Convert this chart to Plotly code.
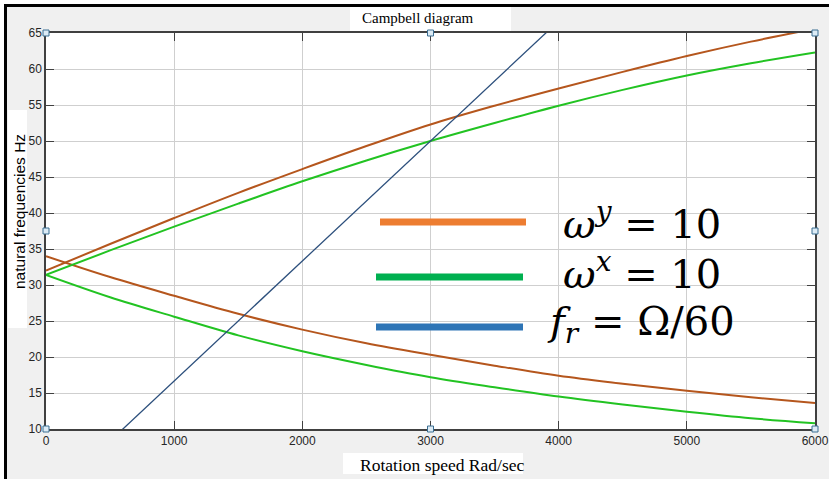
import plotly.graph_objects as go

# ---------------- data ----------------
speed = [0, 500, 1000, 1500, 2000, 2500, 3000, 3500, 4000, 4500, 5000, 5500, 6000]
orange_up = [32.0, 35.7, 39.3, 42.8, 46.1, 49.3, 52.3, 54.9, 57.3, 59.6, 61.8, 63.8, 65.6]
green_up = [31.4, 34.8, 38.1, 41.3, 44.4, 47.3, 50.0, 52.5, 54.9, 57.1, 59.1, 60.8, 62.3]
orange_low = [34.0, 31.1, 28.5, 26.0, 23.8, 21.9, 20.3, 18.8, 17.4, 16.3, 15.3, 14.4, 13.6]
green_low = [31.4, 28.3, 25.6, 23.0, 20.8, 18.9, 17.2, 15.8, 14.5, 13.4, 12.4, 11.5, 10.8]
rot_speed = [0, 6000]
rot_freq = [0, 100]  # f = speed / 60

x_ticks = [0, 1000, 2000, 3000, 4000, 5000, 6000]
y_ticks = [10, 15, 20, 25, 30, 35, 40, 45, 50, 55, 60, 65]

W, H = 829, 479
L, R, T, B = 46, 815, 33, 429


def px(xp):
    return (xp - L) / (R - L)


def py(yp):
    return (B - yp) / (B - T)


ORANGE = "#b5561d"
GREEN = "#22c322"
BLUE = "#2c4f7c"

fig = go.Figure()
for ys, col in [(orange_up, ORANGE), (orange_low, ORANGE), (green_up, GREEN), (green_low, GREEN)]:
    fig.add_trace(go.Scatter(x=speed, y=ys, mode="lines",
                             line=dict(color=col, width=2, shape="spline", smoothing=1.0),
                             showlegend=False))
fig.add_trace(go.Scatter(x=rot_speed, y=rot_freq, mode="lines", line=dict(color=BLUE, width=1.3), showlegend=False))

shapes = []
# outer white margin and black frame lines
shapes.append(dict(type="rect", xref="paper", yref="paper", x0=px(0), x1=px(W), y0=py(0), y1=py(4),
                   fillcolor="white", line=dict(width=0), layer="below"))
shapes.append(dict(type="rect", xref="paper", yref="paper", x0=px(0), x1=px(4), y0=py(0), y1=py(H),
                   fillcolor="white", line=dict(width=0), layer="below"))
shapes.append(dict(type="line", xref="paper", yref="paper", x0=px(4), x1=px(W), y0=py(5.5), y1=py(5.5),
                   line=dict(color="black", width=3)))
shapes.append(dict(type="line", xref="paper", yref="paper", x0=px(5.5), x1=px(5.5), y0=py(4), y1=py(H),
                   line=dict(color="black", width=3)))
# white boxes behind titles
shapes.append(dict(type="rect", xref="paper", yref="paper", x0=px(350), x1=px(511), y0=py(7), y1=py(32),
                   fillcolor="white", line=dict(width=0), layer="below"))
shapes.append(dict(type="rect", xref="paper", yref="paper", x0=px(343), x1=px(523), y0=py(453), y1=py(474),
                   fillcolor="white", line=dict(width=0), layer="below"))
shapes.append(dict(type="rect", xref="paper", yref="paper", x0=px(8), x1=px(27), y0=py(110), y1=py(328),
                   fillcolor="white", line=dict(width=0), layer="below"))
# legend line swatches
for (x0, x1, yy, col) in [(380, 526, 222, "#ed7d31"), (376, 523, 277, "#00b050"), (376, 523, 327, "#2e75b6")]:
    shapes.append(dict(type="line", xref="paper", yref="paper", x0=px(x0), x1=px(x1), y0=py(yy), y1=py(yy),
                       line=dict(color=col, width=7)))
# selection handles
for hx in [0, 0.5, 1]:
    for hy in [0, 0.5, 1]:
        if hx == 0.5 and hy == 0.5:
            continue
        shapes.append(dict(type="rect", xref="paper", yref="paper", xsizemode="pixel", ysizemode="pixel",
                           xanchor=hx, yanchor=hy, x0=-3, x1=3, y0=-3, y1=3,
                           fillcolor="#dcebf5", line=dict(color="#3b6e92", width=1)))

MATH = dict(family="DejaVu Serif", size=40, color="black")
annotations = [
    dict(text="Campbell diagram", xref="paper", yref="paper", x=px(418), y=py(18), showarrow=False,
         xanchor="center", yanchor="middle", font=dict(family="Liberation Serif", size=15, color="black")),
    dict(text="Rotation speed Rad/sec", xref="paper", yref="paper", x=px(442), y=py(465), showarrow=False,
         xanchor="center", yanchor="middle", font=dict(family="Liberation Serif", size=17.5, color="black")),
    dict(text="natural frequencies Hz", xref="paper", yref="paper", x=px(19), y=py(212), showarrow=False,
         textangle=-90, xanchor="center", yanchor="middle",
         font=dict(family="Liberation Sans", size=15.5, color="black")),
    dict(text="<i>ω</i><sup><i>y</i></sup> = 10", xref="paper", yref="paper", x=px(561), y=py(221),
         showarrow=False, xanchor="left", yanchor="middle", font=MATH),
    dict(text="<i>ω</i><sup><i>x</i></sup> = 10", xref="paper", yref="paper", x=px(561), y=py(271),
         showarrow=False, xanchor="left", yanchor="middle", font=MATH),
    dict(text="<i>f</i><sub><i>r</i></sub> = Ω/60", xref="paper", yref="paper", x=px(545), y=py(324),
         showarrow=False, xanchor="left", yanchor="middle", font=MATH),
]

fig.update_layout(
    width=W, height=H,
    margin=dict(l=L, r=W - R, t=T, b=H - B, pad=0, autoexpand=False),
    paper_bgcolor="#f0f0f0",
    plot_bgcolor="white",
    showlegend=False,
    shapes=shapes,
    annotations=annotations,
)
axis_common = dict(
    showgrid=True, gridcolor="#cfcfcf", gridwidth=1,
    showline=True, linecolor="#404040", linewidth=1.5, mirror="ticks",
    ticks="inside", ticklen=8, tickcolor="#404040", tickwidth=1.3,
    tickfont=dict(family="Liberation Sans", size=12, color="#262626"),
    zeroline=False, automargin=False,
)
fig.update_xaxes(range=[0, 6000], tickvals=x_ticks, ticktext=[str(v) for v in x_ticks], **axis_common)
fig.update_yaxes(range=[10, 65], tickvals=y_ticks, ticktext=[str(v) for v in y_ticks], **axis_common)

fig.write_html("out.html")
